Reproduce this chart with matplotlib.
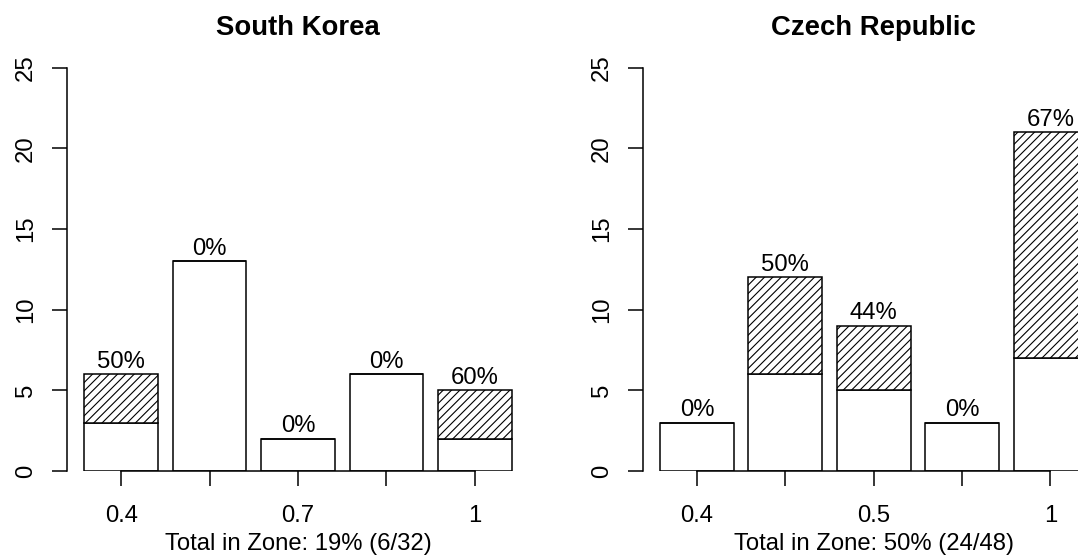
import matplotlib
matplotlib.use("Agg")
import matplotlib.pyplot as plt
import numpy as np

plt.rcParams['font.family'] = ['Liberation Sans', 'DejaVu Sans']
plt.rcParams['hatch.linewidth'] = 0.8

# ---- data ----
titles = ["South Korea", "Czech Republic"]
sk_white = [3, 13, 2, 6, 2]
sk_hatch = [3, 0, 0, 0, 3]
cz_white = [3, 6, 5, 3, 7]
cz_hatch = [0, 6, 4, 0, 14]
sk_ticklabels = ["0.4", "", "0.7", "", "1"]
cz_ticklabels = ["0.4", "", "0.5", "", "1"]
yticks = [0, 5, 10, 15, 20, 25]

W, H = 1078, 556
fig = plt.figure(figsize=(W / 100, H / 100), dpi=100)

FS = 17.2
TFS = 19.8

panels = [
    (titles[0], sk_white, sk_hatch, sk_ticklabels, 67.3),
    (titles[1], cz_white, cz_hatch, cz_ticklabels, 643.0),
]

ax_w = 461.4
y_top, y_bot = 67.7, 471.0

for title, white, hatch, labels, left_px in panels:
    ax = fig.add_axes([left_px / W, (H - y_bot) / H, ax_w / W, (y_bot - y_top) / H])
    white = np.array(white)
    hatch = np.array(hatch)
    n = len(white)
    centers = 0.7 + 1.2 * np.arange(n)
    ax.bar(centers, white, width=1.0, color='white', edgecolor='black', linewidth=1.1, zorder=2)
    ax.bar(centers, hatch, width=1.0, bottom=white, color='white', edgecolor='black',
           hatch='////', linewidth=1.1, zorder=2)
    totals = white + hatch
    for c, t, h in zip(centers, totals, hatch):
        pct = int(round(100 * h / t)) if t else 0
        ax.annotate(f"{pct}%", xy=(c, t), xytext=(0, 4.8), textcoords='offset points',
                    ha='center', va='baseline', fontsize=FS, zorder=3)
    ax.set_xlim(-0.032, 6.232)
    ax.set_ylim(0, 25)
    for s in ['top', 'right']:
        ax.spines[s].set_visible(False)
    ax.spines['left'].set_bounds(0, 25)
    ax.spines['bottom'].set_bounds(centers[0], centers[-1])
    ax.spines['left'].set_linewidth(1.1)
    ax.spines['bottom'].set_linewidth(1.1)
    ax.set_xticks(centers)
    ax.set_xticklabels(labels, fontsize=FS)
    ax.set_yticks(yticks)
    ax.set_yticklabels([str(v) for v in yticks], fontsize=FS, rotation=90, va='center')
    ax.tick_params(axis='both', direction='out', length=10.8, width=1.1)
    ax.tick_params(axis='x', pad=13.5)
    ax.tick_params(axis='y', pad=11)
    ax.patch.set_visible(False)
    cx = (left_px + ax_w / 2) / W
    tot_h = int(hatch.sum())
    tot = int(totals.sum())
    fig.text(cx, (H - 550) / H, f"Total in Zone: {int(round(100 * tot_h / tot))}% ({tot_h}/{tot})",
             ha='center', va='baseline', fontsize=FS)
    fig.text(cx, (H - 35) / H, title, ha='center', va='baseline', fontsize=TFS, fontweight='bold')

fig.savefig("out.png", dpi=100)
